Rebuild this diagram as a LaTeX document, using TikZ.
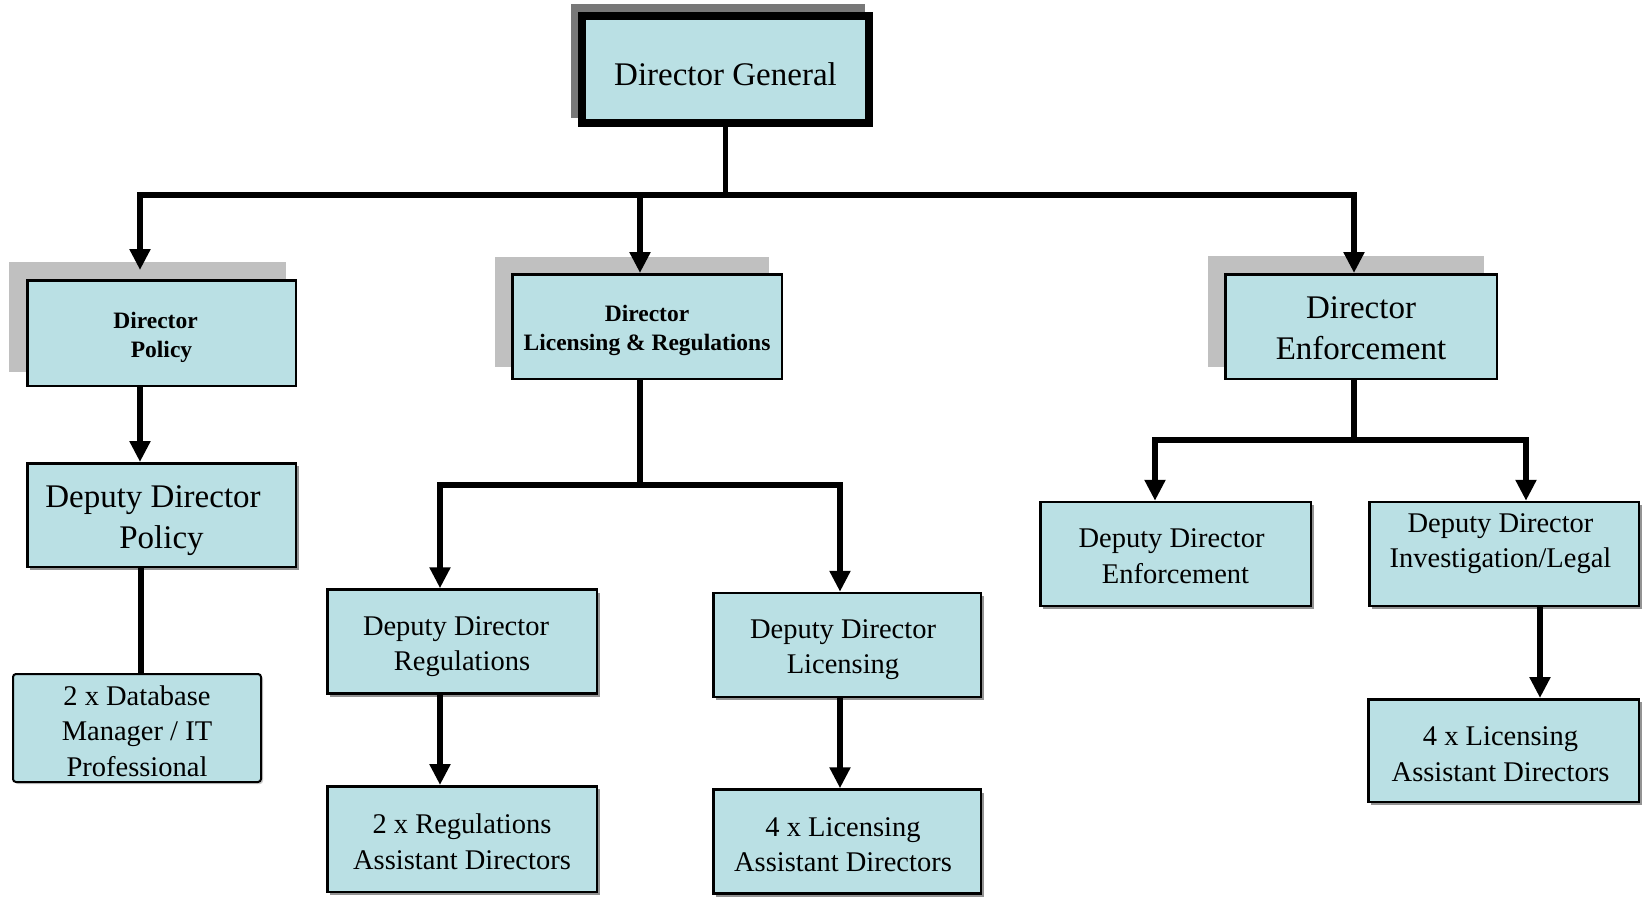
\documentclass[tikz,border=0pt]{standalone}
\usepackage{fontspec}
\setmainfont{Liberation Serif}
\usetikzlibrary{arrows.meta,backgrounds,shadows}
\definecolor{boxfill}{RGB}{186,224,228}
\definecolor{shadelight}{RGB}{192,192,192}
\definecolor{shadedark}{RGB}{120,120,120}
% #1 = how far the text is lowered, #2 = extra room after the text (moves it left by half)
\newcommand{\boxtext}[3]{\raisebox{-#1}[\height][\depth]{\begin{tabular}{@{}c@{}}#3\end{tabular}\kern#2}}
\begin{document}
\begin{tikzpicture}[x=1pt,y=-1pt,
  orgbox/.style={draw=black, fill=boxfill, line width=2.5pt, inner sep=0pt, text=black},
  bigtext/.style={font=\fontsize{33}{41}\selectfont},
  boldtext/.style={font=\fontsize{23.5}{29}\selectfont\bfseries},
  smalltext/.style={font=\fontsize{28.5}{35.5}\selectfont},
  lowbox/.style={orgbox, smalltext, minimum width=269.5pt, minimum height=104pt,
    drop shadow={shadow xshift=3pt, shadow yshift=-3pt, fill=shadedark, opacity=0.8}},
  topbox/.style={orgbox, minimum width=270pt, minimum height=105pt},
  conn/.style={line width=5.5pt, draw=black, line join=miter},
  arr/.style={conn, -{Triangle[width=20pt,length=21pt]}},
]
\useasboundingbox (0,0) rectangle (1642,900);

% top
\node[orgbox, bigtext, line width=8pt, minimum width=287pt, minimum height=107pt] (dg) at (725.5,69.5) {\boxtext{8pt}{0pt}{Director General}};

% directors
\node[topbox, boldtext, minimum width=268.5pt, minimum height=105.5pt] (pol) at (161.5,333) {\boxtext{4pt}{0pt}{Director\hspace*{12pt}\\Policy}};
\node[topbox, boldtext, minimum width=269.5pt, minimum height=104.5pt] (lr) at (647,326.5) {\boxtext{4pt}{0pt}{Director\\Licensing \& Regulations}};
\node[topbox, bigtext, minimum width=271.5pt, minimum height=104.5pt] (enf) at (1361,326.5) {\boxtext{4pt}{0pt}{Director\\Enforcement}};

% deputies and staff
\node[orgbox, bigtext, minimum width=268.5pt, minimum height=103.5pt,
  drop shadow={shadow xshift=3pt, shadow yshift=-3pt, fill=shadedark, opacity=0.8}] (dpol) at (161.5,515) {\boxtext{5pt}{0pt}{Deputy Director\hspace*{17pt}\\Policy}};
\node[orgbox, smalltext, line width=2pt, rounded corners=3pt, minimum width=248pt, minimum height=108pt,
  drop shadow={shadow xshift=2pt, shadow yshift=-2pt, fill=shadelight, opacity=0.8}] (db) at (137,728) {\boxtext{5.5pt}{0pt}{2 x Database\\Manager / IT\\Professional}};

\node[lowbox] (dreg) at (462,641.5) {\boxtext{4.5pt}{0pt}{Deputy Director\hspace*{12pt}\\Regulations}};
\node[lowbox, minimum height=105.5pt] (areg) at (462,839) {\boxtext{5.5pt}{0pt}{2 x Regulations\\Assistant Directors}};
\node[lowbox, minimum width=267.5pt] (dlic) at (847,645) {\boxtext{4pt}{8pt}{Deputy Director\\Licensing}};
\node[lowbox, minimum width=267.5pt] (alic) at (847,841.5) {\boxtext{5.5pt}{8pt}{4 x Licensing\\Assistant Directors}};

\node[lowbox, minimum width=270.5pt] (denf) at (1175.5,554) {\boxtext{4.5pt}{0pt}{Deputy Director\hspace*{8pt}\\Enforcement}};
\node[lowbox] (dinv) at (1504,554) {\boxtext{-11pt}{7pt}{Deputy Director\\Investigation/Legal}};
\node[lowbox, minimum width=270.5pt, minimum height=102.5pt] (alic2) at (1503.5,750.5) {\boxtext{6pt}{6pt}{4 x Licensing\\Assistant Directors}};

% shadows of the upper boxes
\begin{scope}[on background layer]
  \fill[white] (0,0) rectangle (1642,900);
  \fill[shadedark] ([shift={(-7,-8)}]dg.north west) rectangle ([shift={(-8,-9)}]dg.south east);
  \fill[shadelight] ([shift={(-17,-17)}]pol.north west) rectangle ([shift={(-11,-15)}]pol.south east);
  \fill[shadelight] ([shift={(-16,-16)}]lr.north west) rectangle ([shift={(-14,-13)}]lr.south east);
  \fill[shadelight] ([shift={(-16,-17)}]enf.north west) rectangle ([shift={(-14,-13)}]enf.south east);
\end{scope}

% connectors: top level
\draw[conn] (dg.south) -- ++(0,68) coordinate (jt);
\draw[arr, shorten >=9pt] (jt) -| ([xshift=-21.5pt]pol.north);
\draw[arr] (jt) -| ([xshift=-7pt]lr.north);
\draw[arr] (jt) -| ([xshift=-7pt]enf.north);

% policy branch
\draw[arr] ([xshift=-21.5pt]pol.south) -- ([xshift=-21.5pt]dpol.north);
\draw[conn] ([xshift=-20.5pt]dpol.south) -- ([xshift=4pt]db.north);

% licensing & regulations branch
\draw[conn] ([xshift=-7pt]lr.south) -- ++(0,105) coordinate (jm);
\draw[arr] (jm) -| ([xshift=-22pt]dreg.north);
\draw[arr] (jm) -| ([xshift=-7pt]dlic.north);
\draw[arr] ([xshift=-22pt]dreg.south) -- ([xshift=-22pt]areg.north);
\draw[arr] ([xshift=-7pt]dlic.south) -- ([xshift=-7pt]alic.north);

% enforcement branch
\draw[conn] ([xshift=-7pt]enf.south) -- ++(0,60) coordinate (je);
\draw[arr] (je) -| ([xshift=-20.5pt]denf.north);
\draw[arr] (je) -| ([xshift=22pt]dinv.north);
\draw[arr] ([xshift=36pt]dinv.south) -- ([xshift=36.5pt]alic2.north);
\end{tikzpicture}
\end{document}
